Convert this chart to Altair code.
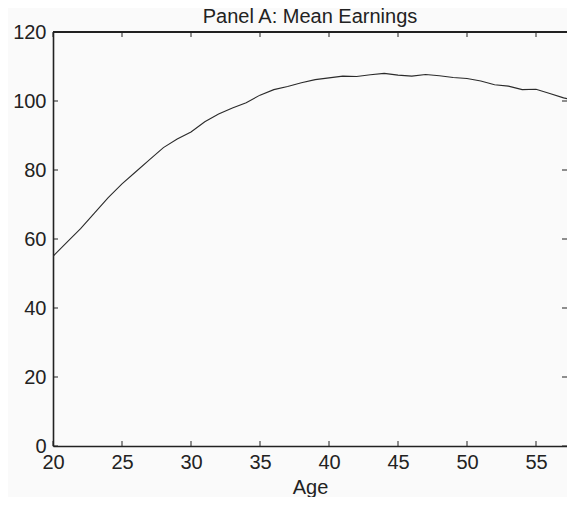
import altair as alt
import pandas as pd

ages = list(range(20, 59))
earnings = [55, 59, 63, 67.5, 72, 76, 79.5, 83, 86.5, 89,
            91, 94, 96.2, 98, 99.5, 101.7, 103.3, 104.2, 105.3, 106.2,
            106.7, 107.2, 107.1, 107.6, 108.0, 107.5, 107.2, 107.7, 107.3, 106.8,
            106.5, 105.8, 104.7, 104.3, 103.3, 103.4, 102.2, 100.9, 100.0]
x_ticks = [20, 25, 30, 35, 40, 45, 50, 55]
y_ticks = [0, 20, 40, 60, 80, 100, 120]

W, H = 514, 414
X_MAX = 20 + W / 13.8
INK = "#222222"
FONT = "Liberation Sans"

df = pd.DataFrame({"age": ages, "earn": earnings})
dfx = pd.DataFrame({"age": x_ticks})
dfy = pd.DataFrame({"earn": y_ticks})

xs = alt.Scale(domain=[20, X_MAX], nice=False, zero=False)
ys = alt.Scale(domain=[0, 120], nice=False)
x_axis = alt.Axis(values=x_ticks, title="Age", ticks=False, tickSize=0, grid=False,
                  labelFlush=False, labelPadding=6, titlePadding=5)
y_axis = alt.Axis(values=y_ticks, title=None, ticks=False, tickSize=0, grid=False,
                  labelFlush=False, labelPadding=7)

line = alt.Chart(df).mark_line(color="#2a2a2a", strokeWidth=1.1, clip=True).encode(
    x=alt.X("age:Q", scale=xs, axis=x_axis),
    y=alt.Y("earn:Q", scale=ys, axis=y_axis),
)

tick_style = dict(color=INK, strokeWidth=1)
bottom_ticks = alt.Chart(dfx).mark_rule(**tick_style).encode(
    x=alt.X("age:Q", scale=xs, axis=x_axis), y=alt.value(H), y2=alt.value(H - 5))
top_ticks = alt.Chart(dfx).mark_rule(**tick_style).encode(
    x=alt.X("age:Q", scale=xs, axis=x_axis), y=alt.value(0), y2=alt.value(5))
left_ticks = alt.Chart(dfy).mark_rule(**tick_style).encode(
    y=alt.Y("earn:Q", scale=ys, axis=y_axis), x=alt.value(0), x2=alt.value(5))
right_ticks = alt.Chart(dfy).mark_rule(**tick_style).encode(
    y=alt.Y("earn:Q", scale=ys, axis=y_axis), x=alt.value(W - 5), x2=alt.value(W))
top_frame = alt.Chart(dfx).mark_rule(color=INK, strokeWidth=1.6).encode(
    x=alt.value(0), x2=alt.value(W), y=alt.value(0))

chart = alt.layer(line, bottom_ticks, top_ticks, left_ticks, right_ticks, top_frame).properties(
    width=W, height=H,
    title=alt.TitleParams("Panel A: Mean Earnings", font=FONT, fontSize=20,
                          fontWeight="normal", color=INK, anchor="middle",
                          frame="group", offset=5, dy=10),
    autosize=alt.AutoSizeParams(type="none"),
    padding={"left": 45, "top": 24, "right": 0, "bottom": 51},
    background="#fafafa",
).configure_view(stroke=None).configure_axis(
    labelFont=FONT, labelFontSize=20, labelColor=INK,
    titleFont=FONT, titleFontSize=20, titleFontWeight="normal", titleColor=INK,
    domainColor=INK, domainWidth=1.6,
)

chart.save("out.html", embed_options={"renderer": "svg", "actions": False})
